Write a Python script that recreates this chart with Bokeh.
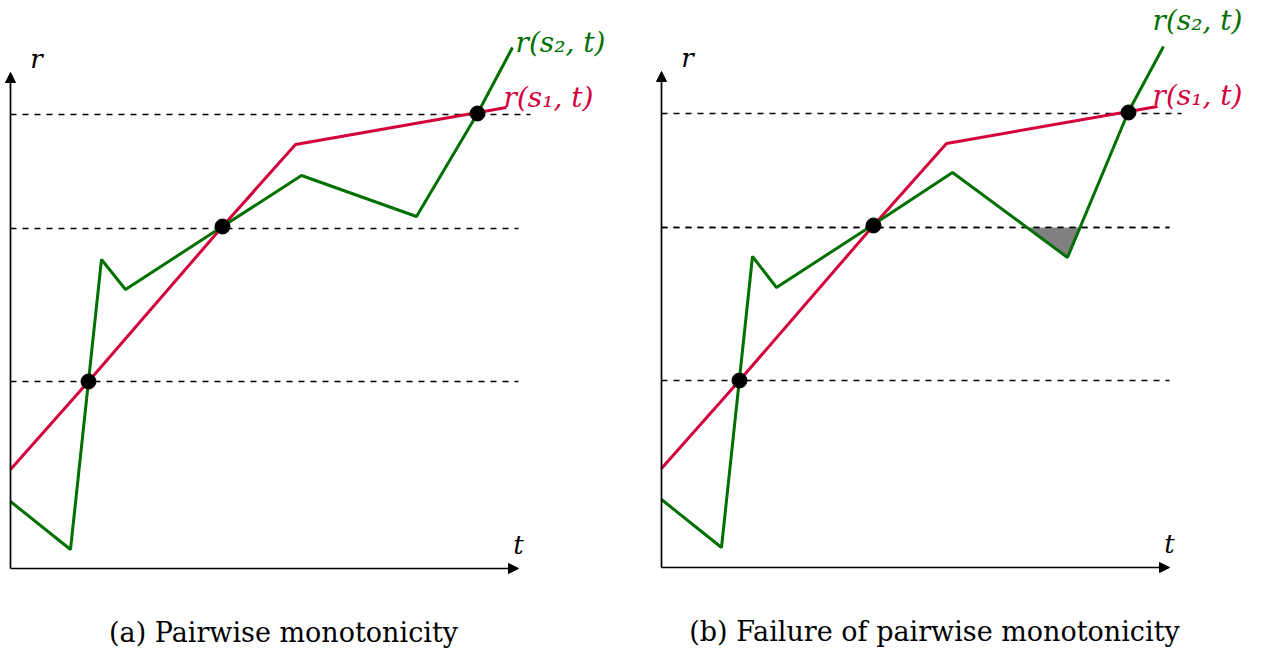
from bokeh.plotting import figure
from bokeh.layouts import row
from bokeh.models import Range1d, Arrow, NormalHead
from bokeh.core.properties import value
from bokeh.embed import file_html
from bokeh.resources import INLINE

# data (t, r), origin at the axes corner
red_t = [0, 78, 212, 285, 496]
red_r = [99, 187, 342, 424, 461]
green_t = [0, 60, 91, 115, 212, 291, 406, 467, 502]
green_r_a = [67, 19, 309, 279, 342, 393, 352, 455, 521]
green_r_b = [68, 20, 311, 280, 343, 395, 310, 456, 521]
dot_t = [78, 212, 467]
dot_r = [187, 342, 455]
levels = [187, 340, 454]
level_end = [508, 508, 520]
captions = ["(a) Pairwise monotonicity", "(b) Failure of pairwise monotonicity"]

RED = "#d4003c"
GREEN = "#007000"
SERIF = "DejaVu Serif"


def crossing(ts, rs, level):
    pts = []
    for i in range(len(ts) - 1):
        r0, r1 = rs[i], rs[i + 1]
        if (r0 - level) * (r1 - level) < 0:
            f = (level - r0) / (r1 - r0)
            pts.append(ts[i] + f * (ts[i + 1] - ts[i]))
    return pts


def panel(width, xr, yr, green_r, caption, lab2, lab1, shade):
    p = figure(width=width, height=655, x_range=Range1d(*xr), y_range=Range1d(*yr),
               output_backend="svg", toolbar_location=None, min_border=0)
    p.axis.visible = False
    p.grid.visible = False
    p.outline_line_color = None
    p.background_fill_color = None
    p.border_fill_color = None

    for lv, le in zip(levels, level_end):
        p.line([0, le], [lv, lv], line_color="black", line_width=1.7, line_dash="6 6")

    if shade:
        lv = levels[1]
        xs = crossing(green_t[5:8], green_r[5:8], lv)
        p.patch([xs[0], green_t[6], xs[1]], [lv, green_r[6], lv],
                fill_color="#808080", line_color=None)
        p.line([0, level_end[1]], [lv, lv], line_color="black", line_width=1.7, line_dash="6 6")

    p.add_layout(Arrow(end=NormalHead(size=10, fill_color="black", line_color="black"),
                       x_start=0, y_start=0, x_end=508, y_end=0, line_width=1.7))
    p.add_layout(Arrow(end=NormalHead(size=10, fill_color="black", line_color="black"),
                       x_start=0, y_start=0, x_end=0, y_end=496, line_width=1.7))

    p.line(red_t, red_r, line_color=RED, line_width=3)
    p.line(green_t, green_r, line_color=GREEN, line_width=3)
    p.scatter(dot_t, dot_r, size=15, color="black")

    p.text([26], [510], text=["r"], text_font=value(SERIF), text_font_style="italic",
           text_font_size="26px", text_align="center", text_baseline="middle")
    p.text([508], [24], text=["t"], text_font=value(SERIF), text_font_style="italic",
           text_font_size="26px", text_align="center", text_baseline="middle")
    p.text([lab2[0]], [lab2[1]], text=["r(s₂, t)"], text_font=value(SERIF),
           text_font_style="italic", text_font_size="28px", text_color=GREEN,
           text_align="left", text_baseline="middle")
    p.text([lab1[0]], [lab1[1]], text=["r(s₁, t)"], text_font=value(SERIF),
           text_font_style="italic", text_font_size="28px", text_color=RED,
           text_align="left", text_baseline="middle")
    p.text([273], [-64], text=[caption], text_font=value(SERIF), text_font_size="27px",
           text_align="center", text_baseline="middle")
    return p


pa = panel(639, (-10, 629), (-87, 568), green_r_a, captions[0], (505, 526), (493, 471), False)
pb = panel(624, (-22, 602), (-88, 567), green_r_b, captions[1], (491, 547), (491, 472), True)

layout = row(pa, pb, spacing=0)
open("out.html", "w").write(file_html(layout, INLINE))
